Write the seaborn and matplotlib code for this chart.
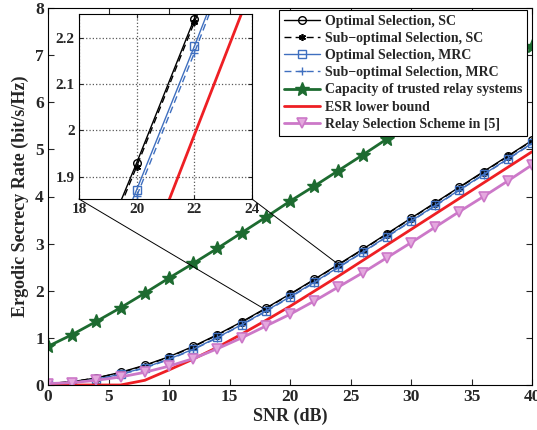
import numpy as np
import pandas as pd
import matplotlib
matplotlib.use("Agg")
import matplotlib.pyplot as plt
from matplotlib.patches import ConnectionPatch
import seaborn as sns

# SNR grid (dB)
snr = [0, 2, 4, 6, 8, 10, 12, 14, 16, 18, 20, 22, 24, 26, 28, 30, 32, 34, 36, 38, 40]

opt_sc = [0.03, 0.07, 0.15, 0.27, 0.42, 0.60, 0.82, 1.07, 1.34, 1.63, 1.93, 2.241,
          2.56, 2.88, 3.21, 3.54, 3.87, 4.20, 4.53, 4.86, 5.19]
sub_sc = [0.03, 0.07, 0.15, 0.26, 0.41, 0.59, 0.81, 1.06, 1.33, 1.62, 1.922, 2.233,
          2.55, 2.87, 3.20, 3.53, 3.86, 4.19, 4.52, 4.85, 5.18]
opt_mrc = [0.02, 0.05, 0.12, 0.23, 0.37, 0.55, 0.76, 1.01, 1.28, 1.57, 1.872, 2.181,
           2.50, 2.82, 3.15, 3.48, 3.81, 4.14, 4.47, 4.80, 5.13]
sub_mrc = [0.02, 0.05, 0.12, 0.22, 0.36, 0.54, 0.75, 1.00, 1.27, 1.56, 1.858, 2.167,
           2.49, 2.81, 3.14, 3.47, 3.80, 4.13, 4.46, 4.79, 5.12]
capacity = [0.82, 1.07, 1.35, 1.64, 1.95, 2.27, 2.58, 2.90, 3.23, 3.56, 3.90, 4.22,
            4.55, 4.88, 5.22, 5.55, 5.88, 6.21, 6.54, 6.87, 7.20]
esr_lb = [0.0, 0.0, 0.0, 0.0, 0.10, 0.32, 0.55, 0.80, 1.08, 1.37, 1.67, 1.99,
          2.31, 2.64, 2.97, 3.30, 3.63, 3.96, 4.29, 4.62, 4.95]
ref5 = [0.03, 0.05, 0.10, 0.17, 0.27, 0.40, 0.56, 0.77, 1.00, 1.25, 1.50, 1.78,
        2.08, 2.38, 2.70, 3.02, 3.35, 3.68, 4.00, 4.33, 4.67]

labels = ["Optimal Selection, SC", "Sub\u2212optimal Selection, SC",
          "Optimal Selection, MRC", "Sub\u2212optimal Selection, MRC",
          "Capacity of trusted relay systems", "ESR lower bound",
          "Relay Selection Scheme in [5]"]

BLUE = "#3f6fbf"
GREEN = "#1d6b30"
RED = "#ee1f24"
PINK = "#cc78c8"

sns.set_theme(style="ticks", rc={"xtick.direction": "in", "ytick.direction": "in",
                                 "xtick.top": True, "ytick.right": True})
plt.rcParams["font.family"] = ["Liberation Serif", "DejaVu Serif"]
plt.rcParams["font.weight"] = "bold"

DASH = (0, (5, 3))
styles = [
    dict(color="black", ls="-", lw=1.0, marker="o", ms=5.5, mfc="none", mec="black", mew=1.0),
    dict(color="black", ls=DASH, lw=1.0, marker=(6, 2, 0), ms=5, mec="black", mew=1.2),
    dict(color=BLUE, ls="-", lw=1.0, marker="s", ms=5.5, mfc="none", mec=BLUE, mew=1.0),
    dict(color=BLUE, ls=DASH, lw=1.0, marker="+", ms=6, mec=BLUE, mew=1.0),
    dict(color=GREEN, ls="-", lw=2.0, marker="*", ms=10, mfc=GREEN, mec=GREEN, mew=1.0),
    dict(color=RED, ls="-", lw=2.0),
    dict(color=PINK, ls="-", lw=2.0, marker="v", ms=7, mfc="#e4a8de", mec=PINK, mew=1.2),
]
series = [opt_sc, sub_sc, opt_mrc, sub_mrc, capacity, esr_lb, ref5]

fig = plt.figure(figsize=(5.37, 4.30), dpi=100)
ax = fig.add_axes([48 / 537, 1 - 385 / 430, 484 / 537, 377 / 430])

for vals, lab, st in zip(series, labels, styles):
    sns.lineplot(x=snr, y=vals, ax=ax, label=lab, **st)

ax.set_xlim(0, 40)
ax.set_ylim(0, 8)
ax.set_xticks(range(0, 41, 5))
ax.set_yticks(range(0, 9))
ax.tick_params(labelsize=12.5, length=4, width=0.8, pad=3)
for t in ax.get_xticklabels() + ax.get_yticklabels():
    t.set_fontweight("bold")
ax.set_xlabel("SNR (dB)", fontsize=13, fontweight="bold", labelpad=2)
ax.set_ylabel("Ergodic Secrecy Rate (bit/s/Hz)", fontsize=13, fontweight="bold", labelpad=4)
for sp in ax.spines.values():
    sp.set_linewidth(0.8)
    sp.set_color("black")

leg = ax.legend(loc="upper right", bbox_to_anchor=(0.99, 0.995), borderaxespad=0,
                fancybox=False, framealpha=1, edgecolor="black",
                handlelength=2.6, labelspacing=0.3, borderpad=0.35, handletextpad=0.35,
                prop={"weight": "bold", "size": 10})
leg.get_frame().set_linewidth(0.8)

# zoomed inset
axin = fig.add_axes([79 / 537, 1 - 199 / 430, 173 / 537, 185 / 430])
for vals, st in zip(series[:4] + [esr_lb], styles[:4] + [styles[5]]):
    sns.lineplot(x=snr, y=vals, ax=axin, **st)
axin.set_xlim(18, 24)
axin.set_ylim(1.852, 2.251)
axin.set_xticks([18, 20, 22, 24])
axin.set_yticks([1.9, 2.0, 2.1, 2.2])
axin.set_yticklabels(["1.9", "2", "2.1", "2.2"])
axin.grid(True, linestyle=":", color="0.35", linewidth=0.9)
axin.tick_params(labelsize=11, length=3, width=0.8, pad=3)
for t in axin.get_xticklabels() + axin.get_yticklabels():
    t.set_fontweight("bold")
for sp in axin.spines.values():
    sp.set_linewidth(0.8)
    sp.set_color("black")

for corner, target in [((0, 0), (17.9, 1.61)), ((1, 0), (24.0, 2.56))]:
    con = ConnectionPatch(xyA=corner, coordsA=axin.transAxes, xyB=target,
                          coordsB=ax.transData, color="black", lw=0.7)
    fig.add_artist(con)

fig.savefig("out.png", dpi=100)
